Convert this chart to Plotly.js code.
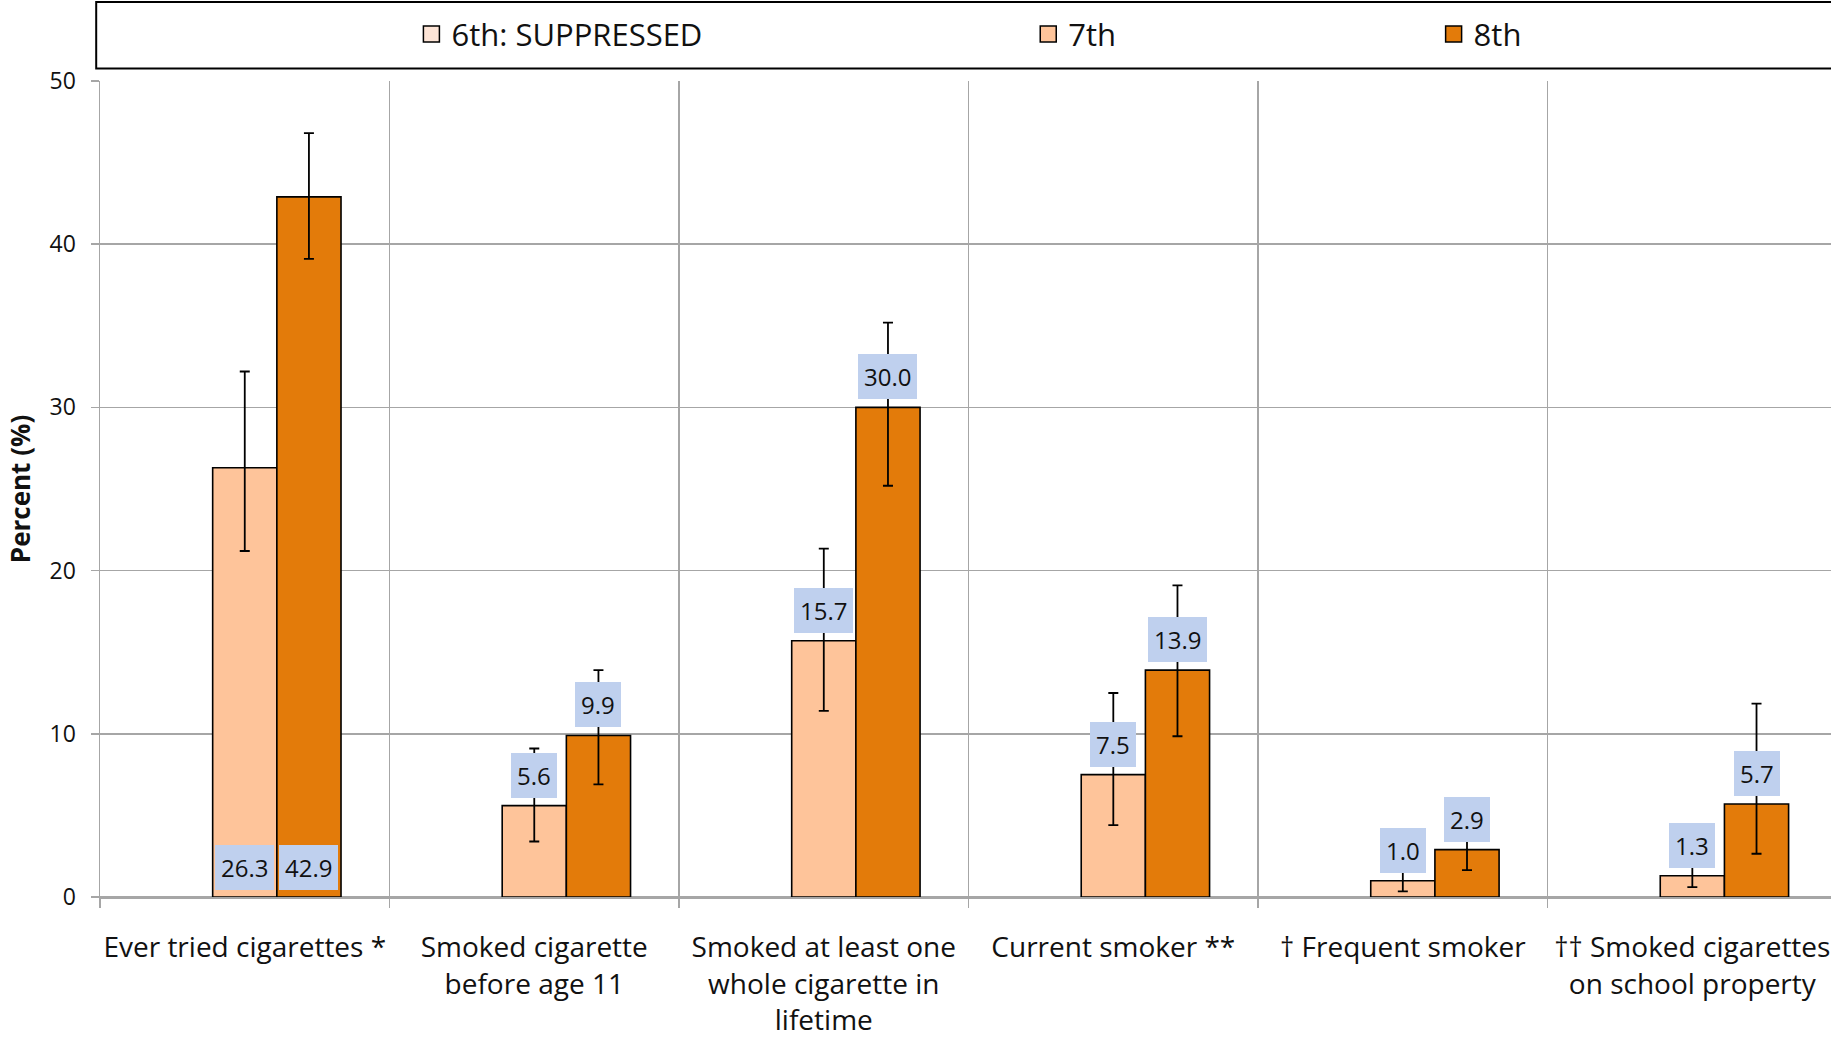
<!DOCTYPE html>
<html>
<head>
<meta charset="utf-8">
<script src="https://cdn.plot.ly/plotly-3.0.1.min.js"></script>
<style>html,body{margin:0;padding:0;background:#fff;}#chart{width:1831px;height:1038px;}</style>
</head>
<body>
<div id="chart"></div>
<script>
// ---- data ----
const categories = [
  'Ever tried cigarettes *',
  'Smoked cigarette<br>before age 11',
  'Smoked at least one<br>whole cigarette in<br>lifetime',
  'Current smoker **',
  '† Frequent smoker',
  '†† Smoked cigarettes<br>on school property'
];
const seriesNames = ['6th: SUPPRESSED', '7th', '8th'];
const sixth = [null, null, null, null, null, null];
const seventh = [26.3, 5.6, 15.7, 7.5, 1.0, 1.3];
const seventhErrPlus = [5.9, 3.5, 5.65, 5.0, 0.9, 0.7];
const seventhErrMinus = [5.1, 2.2, 4.3, 3.1, 0.65, 0.7];
const eighth = [42.9, 9.9, 30.0, 13.9, 2.9, 5.7];
const eighthErrPlus = [3.9, 4.0, 5.2, 5.2, 1.4, 6.15];
const eighthErrMinus = [3.8, 3.0, 4.8, 4.05, 1.25, 3.05];
const labelsAtBase = [true, false, false, false, false, false];
const yTickVals = [0, 10, 20, 30, 40, 50];

// ---- styles ----
const FONT = 'Open Sans, Noto Sans, sans-serif';
const GRID = '#a6a6a6';
const colors = ['#FDE4D6', '#FEC49A', '#E37B0A'];
const bargap = 0.335;
const nSeries = seriesNames.length;
const barW = (1 - bargap) / nSeries;

const xIdx = categories.map((_, i) => i);
const boundaries = categories.map((_, i) => i - 0.5).concat([categories.length - 0.5]);

const plotLeft = 99.5, plotRight = 1831, catPx = 289.6;
const xRange = [-0.5, -0.5 + (plotRight - plotLeft) / catPx];

function barTrace(k, vals, plus, minus) {
  const t = {
    type: 'bar', name: seriesNames[k], x: xIdx, y: vals,
    marker: {color: colors[k], line: {color: '#000', width: 1.6}},
    showlegend: false, hoverinfo: 'skip'
  };
  if (plus) {
    t.error_y = {type: 'data', symmetric: false, array: plus, arrayminus: minus,
                 color: '#000', thickness: 1.8, width: 5};
  }
  return t;
}
function legendProxy(k, legendId) {
  return {
    type: 'scatter', mode: 'markers', name: seriesNames[k], x: [null], y: [null],
    marker: {symbol: 'square', size: 16, color: colors[k], line: {color: '#000', width: 1.5}},
    legend: legendId, showlegend: true, hoverinfo: 'skip'
  };
}

const traces = [
  barTrace(0, sixth),
  barTrace(1, seventh, seventhErrPlus, seventhErrMinus),
  barTrace(2, eighth, eighthErrPlus, eighthErrMinus),
  legendProxy(0, 'legend'),
  legendProxy(1, 'legend2'),
  legendProxy(2, 'legend3'),
  {type: 'scatter', x: [null], y: [null], xaxis: 'x2', yaxis: 'y', showlegend: false, hoverinfo: 'skip'}
];

// data labels
const annotations = [];
[[1, seventh], [2, eighth]].forEach(([k, vals]) => {
  vals.forEach((v, i) => {
    const atBase = labelsAtBase[i];
    annotations.push({
      x: i + (k - (nSeries - 1) / 2) * barW, xref: 'x',
      y: atBase ? 0 : v, yref: 'y',
      yanchor: 'bottom', xanchor: 'center',
      yshift: atBase ? 7 : 8,
      text: v.toFixed(1), showarrow: false,
      font: {family: FONT, size: 24, color: '#111'},
      bgcolor: '#BFD0EE', borderpad: 6, borderwidth: 0
    });
  });
});

const toPaperX = px => (px - plotLeft) / (plotRight - plotLeft);
const plotTop = 80.7, plotBottom = 896.7;
const toPaperY = py => (plotBottom - py) / (plotBottom - plotTop);

const legendBase = {
  orientation: 'h', xanchor: 'left', yanchor: 'middle', y: toPaperY(34),
  bgcolor: 'rgba(0,0,0,0)', borderwidth: 0,
  font: {family: FONT, size: 31, color: '#111'}
};

const layout = {
  width: 1831, height: 1038,
  margin: {l: plotLeft, r: 0, t: plotTop, b: 1038 - plotBottom, autoexpand: false},
  paper_bgcolor: '#fff', plot_bgcolor: '#fff',
  font: {family: FONT, color: '#111'},
  barmode: 'group', bargap: bargap, bargroupgap: 0,
  xaxis: {
    type: 'linear', range: xRange, tickvals: xIdx, ticktext: categories,
    ticks: '', showgrid: false, zeroline: false,
    showline: true, linecolor: GRID, linewidth: 1.5,
    tickfont: {family: FONT, size: 28, color: '#111'},
    ticklabelstandoff: 25, fixedrange: true
  },
  xaxis2: {
    type: 'linear', overlaying: 'x', anchor: 'y', side: 'bottom', range: xRange,
    tickvals: boundaries, showticklabels: false,
    ticks: 'outside', ticklen: 10, tickwidth: 1.5, tickcolor: GRID,
    showgrid: true, gridcolor: GRID, gridwidth: 1.5, zeroline: false, showline: false
  },
  yaxis: {
    range: [0, 50], tickvals: yTickVals,
    ticks: 'outside', ticklen: 8, tickwidth: 1.5, tickcolor: GRID,
    showgrid: true, gridcolor: GRID, gridwidth: 1.5,
    zeroline: true, zerolinecolor: GRID, zerolinewidth: 1.5,
    showline: true, linecolor: GRID, linewidth: 1.5,
    tickfont: {family: FONT, size: 23, color: '#111'},
    ticklabelstandoff: 10,
    title: {text: '<b>Percent (%)</b>', font: {family: FONT, size: 26, color: '#111'}, standoff: 11},
    automargin: false
  },
  legend: Object.assign({}, legendBase, {x: toPaperX(411)}),
  legend2: Object.assign({}, legendBase, {x: toPaperX(1028)}),
  legend3: Object.assign({}, legendBase, {x: toPaperX(1433.5)}),
  shapes: [{
    type: 'rect', xref: 'paper', yref: 'paper',
    x0: toPaperX(95.7), x1: 1.05, y0: toPaperY(68.3), y1: toPaperY(1.7),
    line: {color: '#000', width: 2}, fillcolor: 'rgba(0,0,0,0)', layer: 'above'
  }],
  annotations: annotations,
  showlegend: true
};

Plotly.newPlot('chart', traces, layout, {staticPlot: true, displayModeBar: false});
</script>
</body>
</html>
